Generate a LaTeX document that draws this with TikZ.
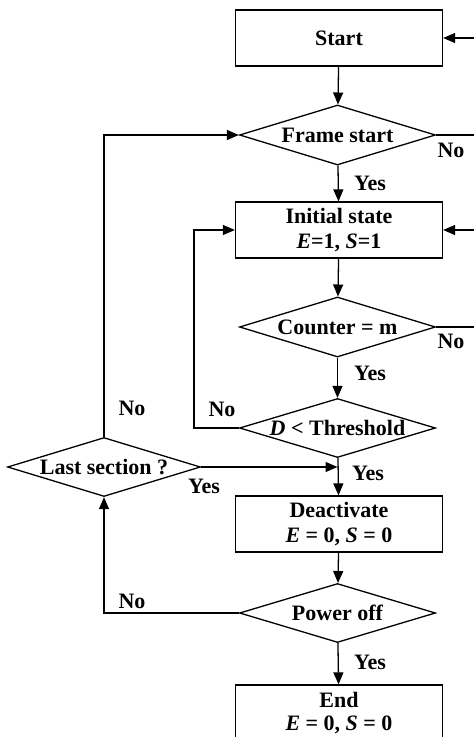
\documentclass[tikz,border=0pt]{standalone}
\usepackage{fontspec}
\setmainfont{Liberation Serif}
\usetikzlibrary{shapes.geometric,arrows.meta}

\tikzset{
  every node/.style={font=\fontsize{22}{25}\selectfont\bfseries},
  procbox/.style={draw,line width=1.3pt,minimum width=207pt,minimum height=56pt,inner sep=0pt,align=center},
  decision/.style={draw,diamond,line width=1.3pt,minimum width=196pt,minimum height=60pt,inner sep=0pt},
  arr/.style={line width=1.3pt,-{Triangle[length=12pt,width=10pt]}},
  ln/.style={line width=1.3pt}
}

\begin{document}
\begin{tikzpicture}[x=1pt,y=-1pt]
  \useasboundingbox (0,0) rectangle (474,737);
  \clip (0,0) rectangle (474,737);

  \node[procbox] (start) at (339,38) {Start};
  \node[decision,label=center:{Frame start}] (fs) at (337.5,135) {};
  \node[procbox] (init) at (339,230) {Initial state\\\textit{E}=1, \textit{S}=1};
  \node[decision,label=center:{Counter = m}] (cnt) at (337.5,327) {};
  \node[decision,minimum height=59pt,label=center:{\textit{D} < Threshold}] (dth) at (337.5,428) {};
  \node[decision,minimum width=193pt,minimum height=59pt,label=center:{Last section ?}] (last) at (104,467) {};
  \node[procbox] (deact) at (339,524) {Deactivate\\\textit{E} = 0, \textit{S} = 0};
  \node[decision,minimum height=59pt,label=center:{Power off}] (pwr) at (337.5,613) {};
  \node[procbox,font=\fontsize{22}{23}\selectfont\bfseries] (end) at (339,713) {End\\\textit{E} = 0, \textit{S} = 0};

  % loose ends at the right border
  \coordinate (r1) at (474,38);
  \coordinate (r2) at (474,135);
  \coordinate (r3) at (474,230);
  \coordinate (r4) at (474,327);
  \coordinate (lp) at (194,428);

  % main column
  \draw[arr] (start) -- (fs);
  \draw[arr] (fs) -- (init);
  \draw[arr] (init) -- (cnt);
  \draw[arr] (cnt) -- (dth);
  \draw[arr] (dth) -- (deact);
  \draw[arr] (deact) -- (pwr);
  \draw[arr] (pwr) -- (end);

  % returns
  \draw[arr] (r1) -- (start.east);
  \draw[ln] (fs.east) -- (r2);
  \draw[arr] (r3) -- (init.east);
  \draw[ln] (cnt.east) -- (r4);
  \draw[arr] (dth.west) -- (lp) |- (init.west);
  \draw[arr] (last.north) |- (fs.west);
  \draw[arr] (last.east) -- (dth.south |- last.east);
  \draw[arr] (pwr.west) -| (last.south);

  % labels
  \node (n1) at (451,150) {No};
  \node (y1) at (370,183) {Yes};
  \node (n2) at (451,341) {No};
  \node (y2) at (370,373) {Yes};
  \node (n3) at (222,409) {No};
  \node (n4) at (132,408) {No};
  \node (y3) at (204,486) {Yes};
  \node (y4) at (368,473) {Yes};
  \node (n5) at (132,601) {No};
  \node (y5) at (370,662) {Yes};
\end{tikzpicture}
\end{document}
